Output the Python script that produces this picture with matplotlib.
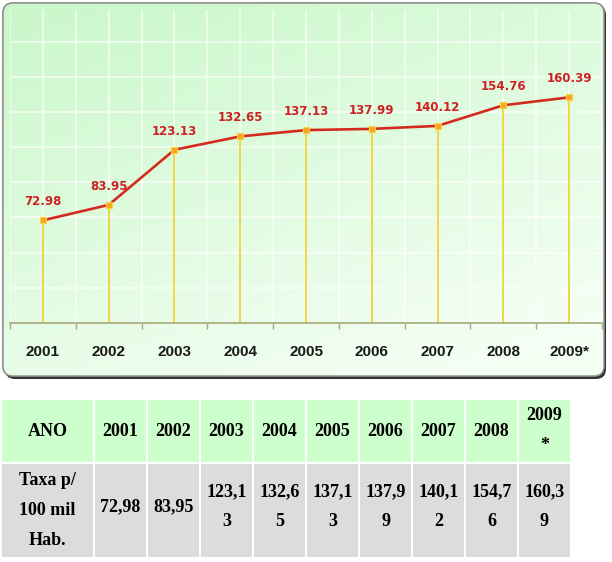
import numpy as np
import matplotlib
matplotlib.use('Agg')
import matplotlib.pyplot as plt
from matplotlib.patches import FancyBboxPatch, Rectangle

# data
years = ['2001', '2002', '2003', '2004', '2005', '2006', '2007', '2008', '2009*']
taxa = [72.98, 83.95, 123.13, 132.65, 137.13, 137.99, 140.12, 154.76, 160.39]
row_head = 'ANO'
row_label = 'Taxa p/\n100 mil\nHab.'

W, H = 612, 562
fig = plt.figure(figsize=(W / 100, H / 100), dpi=100)

# background layer in pixel coords
bg = fig.add_axes([0, 0, 1, 1])
bg.set_xlim(0, W)
bg.set_ylim(H, 0)
bg.axis('off')

# panel with shadow + gradient
shadow = FancyBboxPatch((5, 5), 601, 374, boxstyle='round,pad=0,rounding_size=10',
                        facecolor='#333333', edgecolor='none', zorder=1)
bg.add_patch(shadow)
panel = FancyBboxPatch((3, 3), 601, 373, boxstyle='round,pad=0,rounding_size=10',
                       facecolor='white', edgecolor='#8a8a8a', lw=1, zorder=2)
bg.add_patch(panel)
gx, gy = np.meshgrid(np.linspace(0, 1, 200), np.linspace(0, 1, 200))
t = np.clip(0.7 * gy + 0.4 * gx, 0, 1)
c0 = np.array([0.79, 0.97, 0.79])
c1 = np.array([0.96, 1.0, 0.96])
img = c0[None, None, :] * (1 - t[..., None]) + c1[None, None, :] * t[..., None]
im = bg.imshow(img, extent=[3, 604, 376, 3], aspect='auto', zorder=3)
im.set_clip_path(panel)
edge = FancyBboxPatch((3, 3), 601, 373, boxstyle='round,pad=0,rounding_size=10',
                      facecolor='none', edgecolor='#8a8a8a', lw=1, zorder=4)
bg.add_patch(edge)

# chart
ax = fig.add_axes([10 / W, (H - 323) / H, 592 / W, 313 / H])
ax.patch.set_alpha(0)
x = np.arange(len(years))
ax.set_xlim(-0.5, len(years) - 0.5)
ax.set_ylim(0, 222.5)

for gxv in np.arange(-0.5, len(years), 0.5):
    ax.axvline(gxv, color='white', lw=1.4, alpha=0.6, zorder=0)
for gyv in np.arange(25, 225, 25):
    ax.axhline(gyv, color='white', lw=1.4, alpha=0.6, zorder=0)

ax.vlines(x, 0, taxa, color='#f2d23c', lw=1.3, zorder=2)
ax.plot(x, taxa, color='#d42a1e', lw=1.9, zorder=3)
ax.plot(x, taxa, ls='none', marker='s', ms=5, mfc='#f5a623', mec='#ffd23a',
        mew=0.8, zorder=4)
for xi, v in zip(x, taxa):
    ax.annotate(f'{v:.2f}', (xi, v), xytext=(0, 12), textcoords='offset pixels',
                ha='center', va='bottom', color='#cc2222', fontsize=8.5,
                fontweight='bold', family='DejaVu Sans', zorder=5)

for s in ['top', 'right', 'left']:
    ax.spines[s].set_visible(False)
ax.spines['bottom'].set_color('#a8a878')
ax.spines['bottom'].set_linewidth(1.2)
ax.set_yticks([])
ax.set_xticks(x)
ax.set_xticklabels(years, fontsize=11, fontweight='bold', family='Liberation Sans',
                   color='#1a1a1a')
ax.tick_params(axis='x', which='major', length=0, pad=16)
ax.set_xticks(np.arange(-0.5, len(years), 1), minor=True)
ax.tick_params(axis='x', which='minor', length=4, color='#a8a878', width=1)

# table
serif = dict(family='Liberation Serif', fontweight='bold', fontsize=13,
             color='black', ha='center', va='center', linespacing=2.0)
r1, r1h = 400, 62
r2, r2h = 464, 93
bg.add_patch(Rectangle((2, r1), 91, r1h, facecolor='#ccffcc', edgecolor='none'))
bg.add_patch(Rectangle((2, r2), 91, r2h, facecolor='#dcdcdc', edgecolor='none'))
bg.text(47.5, r1 + r1h / 2, row_head, **serif)
bg.text(47.5, r2 + r2h / 2, row_label, **serif)
for i, (yr, v) in enumerate(zip(years, taxa)):
    cx = 95 + i * 53
    bg.add_patch(Rectangle((cx, r1), 51, r1h, facecolor='#ccffcc', edgecolor='none'))
    bg.add_patch(Rectangle((cx, r2), 51, r2h, facecolor='#dcdcdc', edgecolor='none'))
    hd = yr if len(yr) <= 4 else yr[:4] + '\n' + yr[4:]
    s = f'{v:.2f}'.replace('.', ',')
    if len(s) > 5:
        s = s[:5] + '\n' + s[5:]
    bg.text(cx + 25.5, r1 + r1h / 2, hd, **serif)
    bg.text(cx + 25.5, r2 + r2h / 2 - 4, s, **serif)

fig.savefig('out.png', dpi=100)
